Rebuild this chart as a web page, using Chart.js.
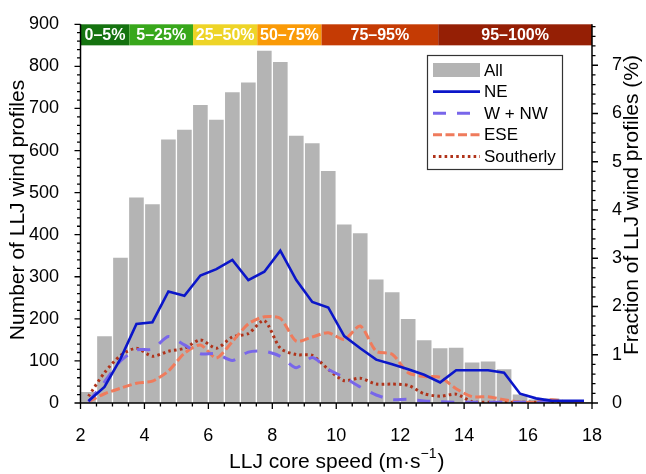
<!DOCTYPE html>
<html>
<head>
<meta charset="utf-8">
<script src="https://cdn.jsdelivr.net/npm/chart.js@4.4.1/dist/chart.umd.min.js"></script>
<style>
html, body { margin: 0; padding: 0; background: #fff; }
</style>
</head>
<body>
<canvas id="chart" width="646" height="474"></canvas>
<script>
// speed classes, 0.5 m/s wide, given by their centre
let speedBins = [2.25, 2.75, 3.25, 3.75, 4.25, 4.75, 5.25, 5.75, 6.25, 6.75, 7.25, 7.75, 8.25, 8.75, 9.25, 9.75,
                 10.25, 10.75, 11.25, 11.75, 12.25, 12.75, 13.25, 13.75, 14.25, 14.75, 15.25, 15.75, 16.25, 16.75, 17.25, 17.75]

// number of profiles per class
let allCounts = [28, 160, 347, 490, 474, 628, 651, 710, 675, 740, 763, 839, 812, 637, 619, 553,
                 426, 405, 295, 265, 201, 151, 132, 133, 98, 100, 82, 22, 10, 12, 6, 3]
let neCounts = [5, 38, 105, 188, 192, 265, 255, 303, 318, 340, 292, 312, 362, 292, 240, 227,
                159, 130, 103, 92, 80, 67, 49, 78, 78, 78, 72, 22, 11, 5, 5, 5]
let wnwCounts = [3, 50, 100, 126, 128, 158, 138, 117, 117, 101, 121, 123, 111, 84, 108, 80,
                 61, 38, 19, 8, 9, 5, 3, 2, 2, 2, 2, 2, 2, 2, 2, 2]
let eseCounts = [3, 22, 35, 47, 52, 76, 118, 138, 107, 146, 188, 205, 201, 147, 157, 167,
                 151, 183, 123, 116, 72, 63, 61, 34, 15, 15, 8, 2, 2, 8, 2, 0]
let southCounts = [16, 72, 113, 130, 111, 123, 130, 150, 130, 157, 165, 196, 130, 115, 113, 80,
                   53, 59, 45, 45, 42, 22, 16, 21, 3, 2, 2, 2, 2, 2, 2, 2]

// percentile classes of core speed (band along the top)
let pctEdges = [2, 3.53, 5.52, 7.53, 9.54, 13.19, 18]
let pctLabels = ['0–5%', '5–25%', '25–50%', '50–75%', '75–95%', '95–100%']
let pctColors = ['#157310', '#38a71b', '#eed427', '#fa9a07', '#c53b04', '#951f05']

let xTicks = [2, 4, 6, 8, 10, 12, 14, 16, 18]

let total = allCounts.reduce((a, b) => a + b, 0)
let yMax = 900

let pts = function(arr){
    return arr.map((v, i) => ({ x: speedBins[i], y: v }))
}

Chart.defaults.font.family = "'Liberation Sans', Arial, sans-serif"
Chart.defaults.color = '#000'

let FONT = "'Liberation Sans', Arial, sans-serif"

// axis lines + major/minor tick marks
let axesPlugin = {
    id: 'axesPlugin',
    afterDraw(chart){
        let ctx = chart.ctx
        let a = chart.chartArea
        let sx = chart.scales.x, sy = chart.scales.y, sy2 = chart.scales.y2
        ctx.save()
        ctx.strokeStyle = '#000'
        ctx.lineWidth = 1.5
        ctx.beginPath()
        ctx.moveTo(a.left, a.top); ctx.lineTo(a.left, a.bottom)
        ctx.moveTo(a.left - 0.75, a.bottom); ctx.lineTo(a.right + 0.75, a.bottom)
        ctx.moveTo(a.right, a.top); ctx.lineTo(a.right, a.bottom)
        ctx.stroke()
        ctx.lineWidth = 1.3
        ctx.beginPath()
        for(let v = 0; v <= 32; v++){
            let val = 2 + v * 0.5
            let px = sx.getPixelForValue(val)
            let len = (v % 4 === 0) ? 6 : 3.5
            ctx.moveTo(px, a.bottom); ctx.lineTo(px, a.bottom + len)
        }
        for(let v = 0; v <= 45; v++){
            let py = sy.getPixelForValue(v * 20)
            let len = (v % 5 === 0) ? 6 : 3.5
            ctx.moveTo(a.left, py); ctx.lineTo(a.left - len, py)
        }
        for(let v = 0; v * 0.2 <= sy2.max + 1e-9; v++){
            let py = sy2.getPixelForValue(v * 0.2)
            let len = (v % 5 === 0) ? 6 : 3.5
            ctx.moveTo(a.right, py); ctx.lineTo(a.right + len, py)
        }
        ctx.stroke()

        // axis titles
        ctx.fillStyle = '#000'
        ctx.textBaseline = 'middle'
        ctx.textAlign = 'center'
        ctx.font = '21px ' + FONT
        ctx.save()
        ctx.translate(18, 210)
        ctx.rotate(-Math.PI / 2)
        ctx.fillText('Number of LLJ wind profiles', 0, 0)
        ctx.restore()
        ctx.save()
        ctx.translate(632, 205)
        ctx.rotate(-Math.PI / 2)
        ctx.fillText('Fraction of LLJ wind profiles (%)', 0, 0)
        ctx.restore()

        // x title with superscript
        let main = 'LLJ core speed (m·s'
        let sup = '−1'
        let close = ')'
        ctx.textAlign = 'left'
        ctx.textBaseline = 'alphabetic'
        ctx.font = '21px ' + FONT
        let wMain = ctx.measureText(main).width
        let wClose = ctx.measureText(close).width
        ctx.font = '14px ' + FONT
        let wSup = ctx.measureText(sup).width
        let cx = (a.left + a.right) / 2
        let x0 = cx - (wMain + wSup + wClose) / 2
        let base = 468
        ctx.font = '21px ' + FONT
        ctx.fillText(main, x0, base)
        ctx.font = '14px ' + FONT
        ctx.fillText(sup, x0 + wMain, base - 10)
        ctx.font = '21px ' + FONT
        ctx.fillText(close, x0 + wMain + wSup + 1, base)
        ctx.restore()
    }
}

// coloured percentile band at the top of the plot
let bandPlugin = {
    id: 'bandPlugin',
    afterDatasetsDraw(chart){
        let ctx = chart.ctx
        let sx = chart.scales.x, sy = chart.scales.y
        let top = sy.getPixelForValue(900)
        let bot = sy.getPixelForValue(850)
        ctx.save()
        for(let i = 0; i < pctLabels.length; i++){
            let x0 = sx.getPixelForValue(pctEdges[i])
            let x1 = sx.getPixelForValue(pctEdges[i + 1])
            ctx.fillStyle = pctColors[i]
            ctx.fillRect(x0, top, x1 - x0, bot - top)
            ctx.fillStyle = '#fff'
            ctx.font = 'bold 16px ' + FONT
            ctx.textAlign = 'center'
            ctx.textBaseline = 'middle'
            ctx.fillText(pctLabels[i], (x0 + x1) / 2, (top + bot) / 2 + 1)
        }
        ctx.restore()
    }
}

// legend box inside the plot
let legendPlugin = {
    id: 'legendPlugin',
    afterDraw(chart){
        let ctx = chart.ctx
        let ds = chart.data.datasets
        let bx = 427.5, by = 55.5, bw = 135, bh = 114
        ctx.save()
        ctx.fillStyle = '#fff'
        ctx.fillRect(bx, by, bw, bh)
        ctx.strokeStyle = '#333'
        ctx.lineWidth = 1.2
        ctx.strokeRect(bx, by, bw, bh)
        ctx.font = '17px ' + FONT
        ctx.textBaseline = 'middle'
        ctx.textAlign = 'left'
        for(let i = 0; i < ds.length; i++){
            let cy = 70 + i * 21.6
            let s0 = 433, s1 = 480
            if(ds[i].type === 'bar'){
                ctx.fillStyle = ds[i].backgroundColor
                ctx.fillRect(s0, cy - 7, s1 - s0, 14)
            }else{
                ctx.strokeStyle = ds[i].borderColor
                ctx.lineWidth = ds[i].borderWidth
                ctx.setLineDash(ds[i].borderDash || [])
                ctx.beginPath()
                ctx.moveTo(s0, cy); ctx.lineTo(s1, cy)
                ctx.stroke()
                ctx.setLineDash([])
            }
            ctx.fillStyle = '#000'
            ctx.fillText(ds[i].label, 484, cy + 1)
        }
        ctx.restore()
    }
}

let lineDs = function(label, arr, color, width, dash, tension){
    return {
        type: 'line',
        label: label,
        data: pts(arr),
        borderColor: color,
        backgroundColor: color,
        borderWidth: width,
        borderDash: dash,
        pointRadius: 0,
        tension: tension,
        fill: false,
        yAxisID: 'y',
        order: 1
    }
}

new Chart(document.getElementById('chart'), {
    data: {
        datasets: [
            {
                type: 'bar',
                label: 'All',
                data: pts(allCounts),
                backgroundColor: '#b4b4b4',
                borderColor: '#ffffff',
                borderWidth: 1,
                barPercentage: 1,
                categoryPercentage: 1,
                yAxisID: 'y',
                order: 5
            },
            lineDs('NE', neCounts, '#0b16c9', 2.6, [], 0),
            lineDs('W + NW', wnwCounts, '#7866ea', 3, [13, 11], 0.25),
            lineDs('ESE', eseCounts, '#ef7b5c', 3, [9, 3.5], 0.25),
            lineDs('Southerly', southCounts, '#b0331a', 3, [2.6, 3.2], 0.25)
        ]
    },
    options: {
        responsive: false,
        animation: false,
        devicePixelRatio: 1,
        layout: { padding: { top: 13.5, left: 0, right: 0, bottom: 0 } },
        plugins: {
            legend: { display: false },
            tooltip: { enabled: false }
        },
        scales: {
            x: {
                type: 'linear',
                offset: false,
                min: 2,
                max: 18,
                grid: { display: false, offset: false },
                border: { display: false },
                afterBuildTicks: s => { s.ticks = xTicks.map(v => ({ value: v })) },
                ticks: { font: { size: 18 }, padding: 14, color: '#000' },
                afterFit: s => { s.height = 71 }
            },
            y: {
                position: 'left',
                min: 0,
                max: yMax,
                grid: { display: false },
                border: { display: false },
                ticks: { stepSize: 100, font: { size: 18 }, padding: 13.5, color: '#000' },
                afterFit: s => { s.width = 80.5 }
            },
            y2: {
                position: 'right',
                min: 0,
                max: yMax / total * 100,
                grid: { display: false },
                border: { display: false },
                ticks: { stepSize: 1, includeBounds: false, font: { size: 18 }, padding: 12, color: '#000' },
                afterFit: s => { s.width = 54 }
            }
        }
    },
    plugins: [bandPlugin, axesPlugin, legendPlugin]
})
</script>
</body>
</html>
